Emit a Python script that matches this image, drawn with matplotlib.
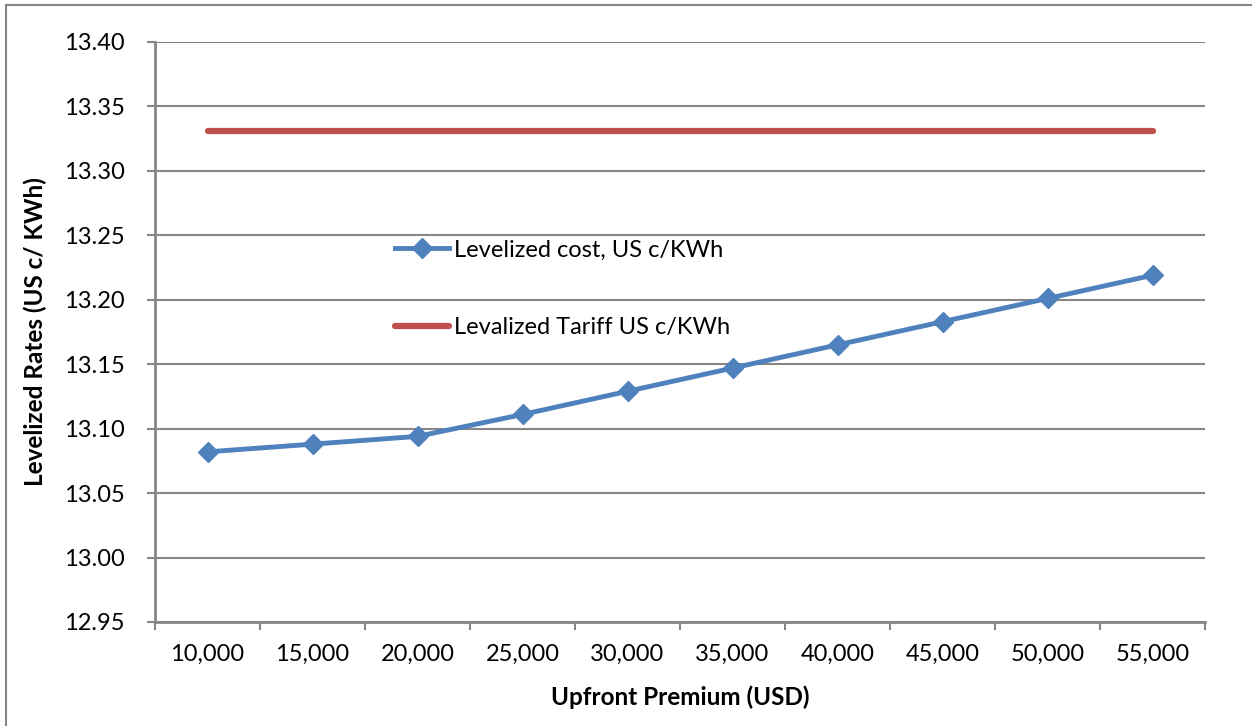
import matplotlib.pyplot as plt
from matplotlib.lines import Line2D

# data
premium_labels = ['10,000', '15,000', '20,000', '25,000', '30,000',
                  '35,000', '40,000', '45,000', '50,000', '55,000']
levelized_cost = [13.082, 13.088, 13.094, 13.111, 13.129,
                  13.147, 13.165, 13.183, 13.201, 13.219]
levelized_tariff = [13.331] * 10
y_ticks = [12.95, 13.00, 13.05, 13.10, 13.15, 13.20, 13.25, 13.30, 13.35, 13.40]

blue = '#4F81BD'
red = '#C0504D'
grey = '#868686'

plt.rcParams['font.family'] = ['Lato', 'DejaVu Sans']

fig = plt.figure(figsize=(12.52, 7.26), dpi=100)
ax = fig.add_axes([155 / 1252, 104 / 726, 1050 / 1252, 580 / 726])

x = list(range(len(premium_labels)))
ax.plot(x, levelized_cost, color=blue, lw=3.5, marker='D', ms=10.5,
        label='Levelized cost, US c/KWh', zorder=3)
ax.plot(x, levelized_tariff, color=red, lw=4.5, solid_capstyle='round',
        label='Levalized Tariff US c/KWh', zorder=3)

ax.set_xlim(-0.5, len(premium_labels) - 0.5)
ax.set_ylim(12.95, 13.40)
ax.set_yticks(y_ticks)
ax.set_yticklabels(['%.2f' % v for v in y_ticks])

# category axis: ticks on the boundaries, labels in the middle
ax.set_xticks([i - 0.5 for i in range(len(premium_labels) + 1)])
ax.set_xticklabels([])
ax.set_xticks(x, minor=True)
ax.set_xticklabels(premium_labels, minor=True)
ax.tick_params(axis='x', which='major', length=6, width=1.5, color=grey)
ax.tick_params(axis='x', which='minor', length=0, pad=16, labelsize=17)
ax.tick_params(axis='y', length=6, width=1.5, color=grey, pad=16, labelsize=17)

ax.grid(axis='y', color=grey, lw=1.5)
ax.set_axisbelow(True)
for side in ['top', 'right']:
    ax.spines[side].set_visible(False)
for side in ['left', 'bottom']:
    ax.spines[side].set_color(grey)
    ax.spines[side].set_linewidth(2)

ax.set_xlabel('Upfront Premium (USD)', fontsize=17.5, fontweight='bold')
ax.set_ylabel('Levelized Rates (US c/ KWh)', fontsize=17.5, fontweight='bold')
ax.xaxis.set_label_coords(0.5, (622 - 697) / 580)
ax.xaxis.label.set_va('center')
ax.yaxis.set_label_coords((35 - 155) / 1050, 0.5)
ax.yaxis.label.set_va('center')

ax.legend(loc='center left', bbox_to_anchor=((395 - 155) / 1050, (622 - 289) / 580),
          frameon=False, fontsize=17, handlelength=2.3, handletextpad=0.2,
          labelspacing=2.4, borderpad=0, borderaxespad=0)

# outer chart border (left and top edges visible)
fig.add_artist(Line2D([6 / 1252, 6 / 1252], [0, 1 - 5 / 726], color=grey, lw=1.5,
                      transform=fig.transFigure))
fig.add_artist(Line2D([6 / 1252, 1], [1 - 5 / 726, 1 - 5 / 726], color=grey, lw=1.5,
                      transform=fig.transFigure))

fig.savefig('out.png', dpi=100)
